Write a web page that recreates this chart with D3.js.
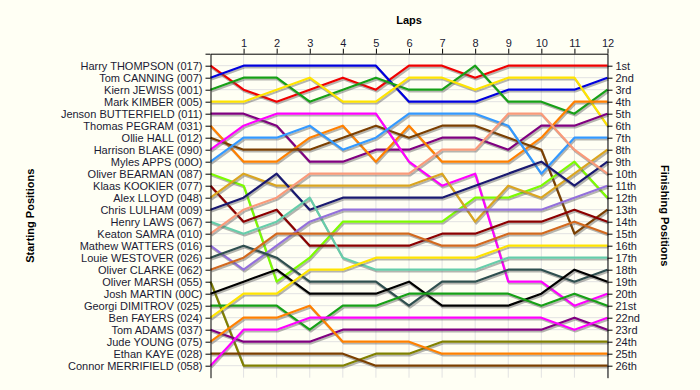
<!DOCTYPE html>
<html>
<head>
<meta charset="utf-8">
<script src="https://cdn.jsdelivr.net/npm/d3@7"></script>
<style>
  body { margin: 0; background: #fffff4; }
  svg { display: block; font-family: "Liberation Sans", Arial, sans-serif; }
</style>
</head>
<body>
<svg id="chart" width="700" height="390"></svg>
<script>
// starting order
var drivers = [
  "Harry THOMPSON (017)", "Tom CANNING (007)", "Kiern JEWISS (001)", "Mark KIMBER (005)",
  "Jenson BUTTERFIELD (011)", "Thomas PEGRAM (031)", "Ollie HALL (012)", "Harrison BLAKE (090)",
  "Myles APPS (00O)", "Oliver BEARMAN (087)", "Klaas KOOKIER (077)", "Alex LLOYD (048)",
  "Chris LULHAM (009)", "Henry LAWS (067)", "Keaton SAMRA (010)", "Mathew WATTERS (016)",
  "Louie WESTOVER (026)", "Oliver CLARKE (062)", "Oliver MARSH (055)", "Josh MARTIN (00C)",
  "Georgi DIMITROV (025)", "Ben FAYERS (024)", "Tom ADAMS (037)", "Jude YOUNG (075)",
  "Ethan KAYE (028)", "Connor MERRIFIELD (058)"
];

var lapTicks = [1, 2, 3, 4, 5, 6, 7, 8, 9, 10, 11, 12];

var finishLabels = [
  "1st", "2nd", "3rd", "4th", "5th", "6th", "7th", "8th", "9th", "10th", "11th", "12th", "13th",
  "14th", "15th", "16th", "17th", "18th", "19th", "20th", "21st", "22nd", "23rd", "24th", "25th", "26th"
];

// position at lap 0 (start) .. lap 12, one row per driver
var positions = [
  [1, 3, 4, 3, 2, 3, 1, 1, 2, 1, 1, 1, 1],
  [2, 1, 1, 1, 1, 1, 4, 4, 4, 3, 3, 3, 2],
  [3, 2, 2, 4, 3, 2, 3, 3, 1, 4, 4, 5, 3],
  [4, 4, 3, 2, 4, 4, 2, 2, 3, 2, 2, 2, 6],
  [5, 5, 6, 9, 9, 8, 8, 7, 7, 8, 6, 6, 5],
  [6, 9, 9, 7, 6, 9, 6, 9, 9, 9, 7, 4, 4],
  [7, 8, 8, 8, 7, 6, 7, 6, 6, 7, 8, 15, 13],
  [8, 6, 5, 5, 5, 5, 9, 11, 10, 19, 19, 21, 20],
  [9, 7, 7, 6, 8, 7, 5, 5, 5, 6, 10, 7, 7],
  [10, 11, 19, 17, 14, 14, 14, 14, 12, 12, 11, 9, 12],
  [11, 14, 13, 16, 16, 16, 16, 15, 15, 14, 14, 13, 14],
  [12, 10, 11, 11, 11, 11, 11, 10, 14, 11, 12, 10, 8],
  [13, 12, 10, 13, 12, 12, 12, 12, 11, 10, 9, 11, 9],
  [14, 15, 14, 12, 17, 18, 18, 18, 18, 17, 17, 17, 17],
  [15, 13, 12, 10, 10, 10, 10, 8, 8, 5, 5, 8, 10],
  [16, 18, 16, 14, 13, 13, 13, 13, 13, 13, 13, 12, 11],
  [17, 16, 17, 19, 19, 19, 21, 19, 19, 18, 18, 19, 18],
  [18, 17, 15, 15, 15, 15, 15, 16, 16, 15, 15, 14, 15],
  [19, 26, 26, 26, 26, 25, 25, 24, 24, 24, 24, 24, 24],
  [20, 19, 18, 20, 20, 20, 19, 21, 21, 21, 20, 18, 19],
  [21, 21, 21, 23, 21, 21, 20, 20, 20, 20, 21, 20, 21],
  [22, 20, 20, 18, 18, 17, 17, 17, 17, 16, 16, 16, 16],
  [23, 24, 24, 24, 23, 23, 23, 23, 23, 23, 23, 22, 23],
  [24, 22, 22, 21, 24, 24, 24, 25, 25, 25, 25, 25, 25],
  [25, 25, 25, 25, 25, 26, 26, 26, 26, 26, 26, 26, 26],
  [26, 23, 23, 22, 22, 22, 22, 22, 22, 22, 22, 23, 22]
];

var colors = [
  "#f00000", "#0000dd", "#16a016", "#ffe400", "#800080", "#ff8000", "#7b3f00", "#ff00ff",
  "#3399ff", "#7cfc00", "#8b0000", "#daa520", "#191970", "#66cdaa", "#fa9a7a", "#9370db",
  "#2f4f4f", "#d2691e", "#808000", "#000000",
  "#16a016", "#ffe400", "#800080", "#ff8000", "#7b3f00", "#ff00ff"
];

var svg = d3.select("#chart");
var textCol = "#1a1a33";

var x = d3.scaleLinear().domain([0, 12]).range([210.5, 607.5]);
var y = d3.scaleLinear().domain([0, 27]).range([53.7, 377.7]);

// grid
var grid = svg.append("g").attr("stroke", "#e2e2e2").attr("stroke-width", 1);
grid.selectAll("line.h").data(d3.range(1, 27)).enter().append("line")
  .attr("x1", x(0)).attr("x2", x(12))
  .attr("y1", function(d){ return y(d); }).attr("y2", function(d){ return y(d); });
grid.selectAll("line.v").data(lapTicks).enter().append("line")
  .attr("x1", function(d){ return x(d); }).attr("x2", function(d){ return x(d); })
  .attr("y1", y(0)).attr("y2", y(27));

// lines with a soft drop shadow
var line = d3.line()
  .x(function(d, i){ return x(i); })
  .y(function(d){ return y(d); });

var series = svg.append("g").attr("fill", "none").attr("stroke-linejoin", "round");
for (var j = 0; j < positions.length; j++) {
  series.append("path")
    .attr("d", line(positions[j]))
    .attr("transform", "translate(1,1.8)")
    .attr("stroke", "rgba(90,90,90,0.45)")
    .attr("stroke-width", 2.2);
  series.append("path")
    .attr("d", line(positions[j]))
    .attr("stroke", colors[j])
    .attr("stroke-width", 2.2);
}

// axes
var leftAxis = svg.append("g")
  .attr("transform", "translate(" + x(0) + ",0)")
  .call(d3.axisLeft(y).tickValues(d3.range(0, 27)).tickSize(5).tickSizeOuter(0)
    .tickFormat(function(d){ return d === 0 ? "" : drivers[d - 1]; }));

var rightAxis = svg.append("g")
  .attr("transform", "translate(" + x(12) + ",0)")
  .call(d3.axisRight(y).tickValues(d3.range(1, 27)).tickSize(5).tickSizeOuter(0)
    .tickFormat(function(d){ return finishLabels[d - 1]; }));

var lapAxis = svg.append("g")
  .attr("transform", "translate(0," + y(0) + ")")
  .call(d3.axisTop(x).tickValues(lapTicks).tickSize(5).tickSizeOuter(0)
    .tickFormat(d3.format("d")));

[leftAxis, rightAxis, lapAxis].forEach(function(g){
  g.selectAll("path, line").attr("stroke", "#000");
  g.selectAll("text").attr("fill", textCol).style("font-size", "11px")
    .style("font-family", "'Liberation Sans', Arial, sans-serif");
});
leftAxis.selectAll("text").attr("x", -8);
rightAxis.selectAll("text").attr("x", 8);
lapAxis.selectAll("text").attr("y", -7);

// titles
svg.append("text").attr("x", x(6)).attr("y", 24).attr("text-anchor", "middle")
  .attr("font-weight", "bold").attr("font-size", 11).attr("fill", "#000").text("Laps");

svg.append("text").attr("transform", "translate(34," + y(13.5) + ") rotate(-90)")
  .attr("text-anchor", "middle").attr("font-weight", "bold").attr("font-size", 11)
  .attr("fill", "#000").text("Starting Positions");

svg.append("text").attr("transform", "translate(661," + y(13.5) + ") rotate(90)")
  .attr("text-anchor", "middle").attr("font-weight", "bold").attr("font-size", 11)
  .attr("fill", "#000").text("Finishing Positions");
</script>
</body>
</html>
